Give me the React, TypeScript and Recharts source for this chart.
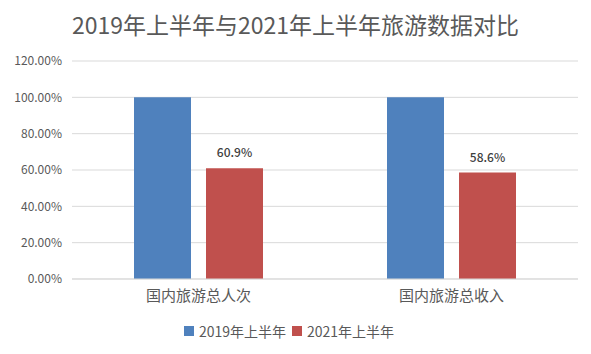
import { Bar, BarChart, CartesianGrid, LabelList, Legend, XAxis, YAxis } from "recharts";

const categories = ["国内旅游总人次", "国内旅游总收入"];
const values2019 = [1.0, 1.0];
const values2021 = [0.609, 0.586];
const yTicks = [0, 0.2, 0.4, 0.6, 0.8, 1.0, 1.2];

const FONT = "'Noto Sans CJK SC', 'Noto Sans', sans-serif";

const data = categories.map((name, i) => ({
  name,
  y2019: values2019[i],
  y2021: values2021[i],
}));

const pct2 = (v: number) => (v * 100).toFixed(2) + "%";
const pct1 = (v: any) => (Number(v) * 100).toFixed(1) + "%";

const renderLegend = () => (
  <div style={{ display: "flex", justifyContent: "center", gap: 6, fontFamily: FONT, fontSize: 14, color: "#595959" }}>
    {[
      { label: "2019年上半年", color: "#4f81bd" },
      { label: "2021年上半年", color: "#c0504d" },
    ].map((it) => (
      <span key={it.label} style={{ display: "flex", alignItems: "center" }}>
        <span style={{ width: 10, height: 10, background: it.color, marginRight: 5, display: "inline-block" }} />
        {it.label}
      </span>
    ))}
  </div>
);

export default function App() {
  return (
    <div style={{ position: "absolute", left: 0, top: 0, width: 591, height: 354, background: "#fff" }}>
      <div
        style={{
          position: "absolute",
          top: 7,
          width: 591,
          textAlign: "center",
          fontFamily: FONT,
          fontSize: 23,
          color: "#595959",
          lineHeight: "34px",
        }}
      >
        2019年上半年与2021年上半年旅游数据对比
      </div>
      <BarChart
        width={591}
        height={354}
        data={data}
        margin={{ top: 61, right: 13, left: 0, bottom: 12 }}
        barGap={15}
      >
        <CartesianGrid vertical={false} stroke="#d9d9d9" />
        <XAxis
          dataKey="name"
          axisLine={{ stroke: "#d9d9d9" }}
          tickLine={false}
          tickSize={0}
          tickMargin={11}
          height={42}
          tick={{ fill: "#595959", fontSize: 15, fontFamily: FONT }}
        />
        <YAxis
          width={72}
          domain={[0, 1.2]}
          ticks={yTicks}
          tickFormatter={pct2}
          axisLine={false}
          tickLine={false}
          tickSize={0}
          tickMargin={10}
          tick={{ fill: "#595959", fontSize: 12, fontFamily: FONT }}
        />
        <Legend verticalAlign="bottom" height={21} content={renderLegend} />
        <Bar dataKey="y2019" name="2019年上半年" fill="#4f81bd" barSize={57} isAnimationActive={false} />
        <Bar dataKey="y2021" name="2021年上半年" fill="#c0504d" barSize={57} isAnimationActive={false}>
          <LabelList
            dataKey="y2021"
            position="top"
            offset={11}
            formatter={pct1}
            style={{ fill: "#404040", fontSize: 12, fontWeight: 500, fontFamily: FONT }}
          />
        </Bar>
      </BarChart>
    </div>
  );
}
